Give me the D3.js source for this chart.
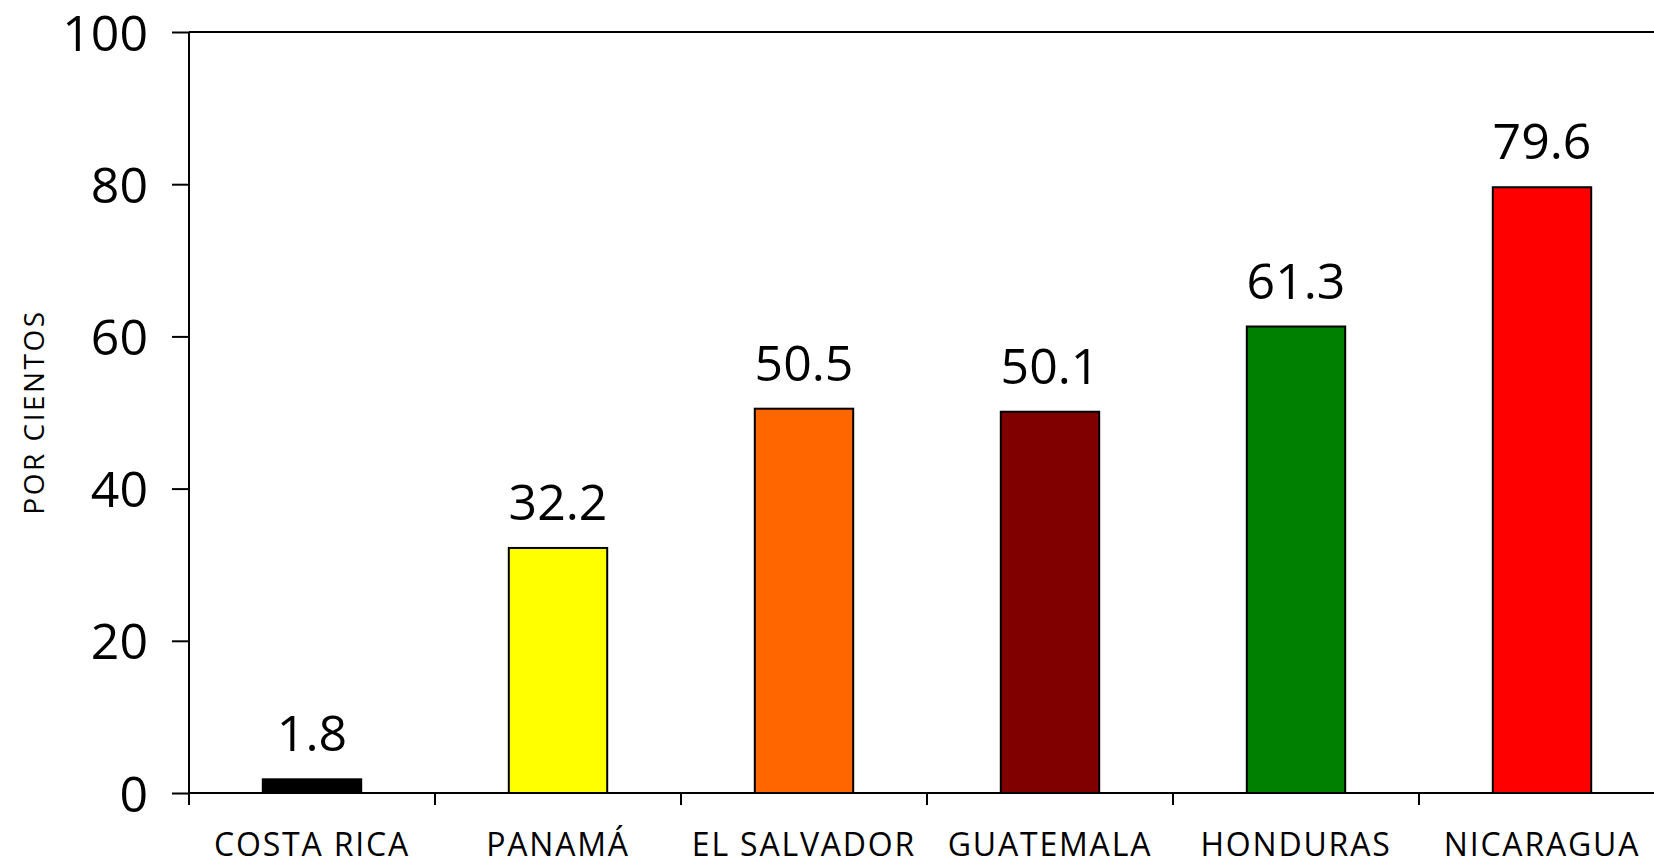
<!DOCTYPE html>
<html>
<head>
<meta charset="utf-8">
<script src="https://cdn.jsdelivr.net/npm/d3@7"></script>
<style>
  body { margin: 0; background: #fff; }
  text { font-family: "Open Sans", "Noto Sans", sans-serif; fill: #000; }
</style>
</head>
<body>
<div id="chart"></div>
<script>
let countries = ["COSTA RICA", "PANAMÁ", "EL SALVADOR", "GUATEMALA", "HONDURAS", "NICARAGUA"]
let values = [1.8, 32.2, 50.5, 50.1, 61.3, 79.6]
let colors = ["#000000", "#ffff00", "#ff6600", "#800000", "#008000", "#ff0000"]
let yTicks = [0, 20, 40, 60, 80, 100]

var width = 1654, height = 861;
var plotLeft = 189, plotTop = 32, plotBottom = 793;
var band = 246;

var svg = d3.select("#chart").append("svg")
  .attr("width", width)
  .attr("height", height);

var xScale = d3.scaleBand()
  .domain(countries)
  .range([plotLeft, plotLeft + band * countries.length])
  .paddingInner(0.6)
  .paddingOuter(0.3);

var yScale = d3.scaleLinear()
  .domain([0, 100])
  .range([plotBottom, plotTop]);

// Y axis
var yAxis = svg.append("g")
  .attr("transform", "translate(" + plotLeft + ",0)")
  .call(d3.axisLeft(yScale).tickValues(yTicks).tickSize(17).tickPadding(24));
yAxis.select(".domain").attr("d", "M0," + plotTop + "V" + plotBottom).attr("stroke-width", 2);
yAxis.selectAll(".tick line").attr("stroke-width", 2);
yAxis.selectAll(".tick text")
  .style("font-size", "50px")
  .style("font-family", "'Open Sans', sans-serif")
  .attr("dy", "0.36em");

// X axis line
svg.append("line")
  .attr("x1", plotLeft).attr("x2", width)
  .attr("y1", plotBottom).attr("y2", plotBottom)
  .attr("stroke", "#000").attr("stroke-width", 2);

// top frame line
svg.append("line")
  .attr("x1", plotLeft).attr("x2", width)
  .attr("y1", plotTop).attr("y2", plotTop)
  .attr("stroke", "#000").attr("stroke-width", 2);

// band ticks below the x axis
svg.selectAll(".xtick")
  .data(d3.range(countries.length))
  .enter().append("line")
  .attr("x1", d => plotLeft + d * band)
  .attr("x2", d => plotLeft + d * band)
  .attr("y1", plotBottom)
  .attr("y2", plotBottom + 12)
  .attr("stroke", "#000").attr("stroke-width", 2);

svg.selectAll(".xlabel")
  .data(countries)
  .enter().append("text")
  .attr("x", d => xScale(d) + xScale.bandwidth() / 2)
  .attr("y", 856)
  .attr("text-anchor", "middle")
  .style("font-size", "32px")
  .style("letter-spacing", "1.8px")
  .text(d => d);

// Bars
svg.selectAll(".bar")
  .data(values)
  .enter().append("rect")
  .attr("x", (d, i) => xScale(countries[i]))
  .attr("width", xScale.bandwidth())
  .attr("y", d => yScale(d))
  .attr("height", d => plotBottom - yScale(d))
  .attr("fill", (d, i) => colors[i])
  .attr("stroke", "#000")
  .attr("stroke-width", 2);

// Value labels
svg.selectAll(".val")
  .data(values)
  .enter().append("text")
  .attr("x", (d, i) => xScale(countries[i]) + xScale.bandwidth() / 2)
  .attr("y", d => yScale(d) - 28)
  .attr("text-anchor", "middle")
  .style("font-size", "50px")
  .text(d => d.toFixed(1));

// Y label
svg.append("text")
  .attr("transform", "rotate(-90)")
  .attr("x", -412)
  .attr("y", 44)
  .attr("text-anchor", "middle")
  .style("font-size", "28px")
  .style("letter-spacing", "2.5px")
  .text("POR CIENTOS");
</script>
</body>
</html>
